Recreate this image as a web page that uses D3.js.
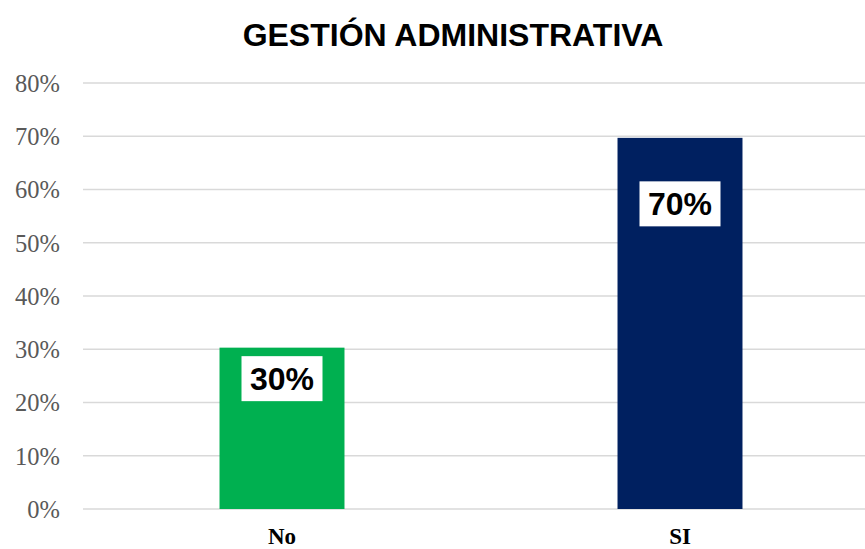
<!DOCTYPE html>
<html><head><meta charset="utf-8">
<script src="https://cdn.jsdelivr.net/npm/d3@7"></script>
<style>body{margin:0;background:#fff}svg{display:block}</style>
</head><body>
<script>
const title = "GESTIÓN ADMINISTRATIVA";
const categories = ["No", "SI"];
const values = [0.303, 0.697];
const labels = ["30%", "70%"];
const barColors = ["#00B050", "#002060"];
const tickValues = [0, 0.1, 0.2, 0.3, 0.4, 0.5, 0.6, 0.7, 0.8];

const W = 865, H = 549;
const svg = d3.select("body").append("svg").attr("width", W).attr("height", H);

const y = d3.scaleLinear().domain([0, 0.8]).range([509, 83]);
const x = d3.scaleBand().domain(categories).range([83, 879]).padding(0);

svg.append("text").attr("x", 453).attr("y", 46).attr("text-anchor", "middle")
  .attr("font-family", "Liberation Sans, Arial, sans-serif").attr("font-weight", "bold")
  .attr("font-size", 32).attr("fill", "#000").text(title);

// gridlines
svg.append("g").selectAll("line").data(tickValues).join("line")
  .attr("x1", 83).attr("x2", W).attr("y1", d => y(d)).attr("y2", d => y(d))
  .attr("stroke", "#d9d9d9").attr("stroke-width", 1.6);

// y axis labels
const yAxis = d3.axisLeft(y).tickValues(tickValues).tickFormat(d3.format(".0%")).tickSize(0).tickPadding(0);
const gy = svg.append("g").attr("transform", "translate(60,0)").call(yAxis);
gy.select(".domain").remove();
gy.selectAll("text").attr("font-family", "Liberation Serif, Cambria, serif")
  .attr("font-size", 24.5).attr("fill", "#595959").attr("dy", "0.34em");

const bw = x.bandwidth() * 0.314;
svg.append("g").selectAll("rect").data(categories).join("rect")
  .attr("x", d => x(d) + x.bandwidth() / 2 - bw / 2).attr("width", bw)
  .attr("y", (d, i) => y(values[i])).attr("height", (d, i) => y(0) - y(values[i]))
  .attr("fill", (d, i) => barColors[i]);

// data labels
const labelOffset = [31, 66];
const lg = svg.append("g").selectAll("g").data(categories).join("g")
  .attr("transform", (d, i) => `translate(${x(d) + x.bandwidth() / 2},${y(values[i]) + labelOffset[i]})`);
lg.append("rect").attr("x", -40.5).attr("y", -22.5).attr("width", 81).attr("height", 45).attr("fill", "#fff");
lg.append("text").attr("text-anchor", "middle").attr("y", 11.5)
  .attr("font-family", "Liberation Sans, Arial, sans-serif").attr("font-weight", "bold")
  .attr("font-size", 32).attr("fill", "#000").text((d, i) => labels[i]);

// x axis labels
const xAxis = d3.axisBottom(x).tickSize(0).tickPadding(0);
const gx = svg.append("g").attr("transform", "translate(0,544)").call(xAxis);
gx.select(".domain").remove();
gx.selectAll("text").attr("dy", 0).attr("font-family", "Liberation Serif, Cambria, serif")
  .attr("font-weight", "bold").attr("font-size", 23).attr("fill", "#000");
</script>
</body></html>
